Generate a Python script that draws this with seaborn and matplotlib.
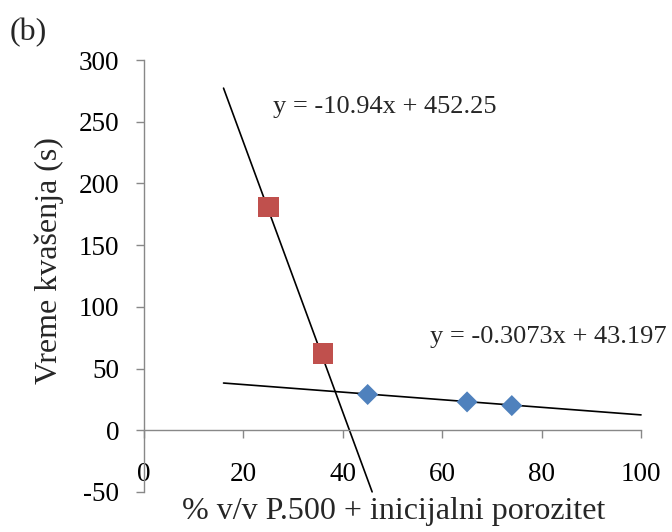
import matplotlib
matplotlib.use("Agg")
import matplotlib.pyplot as plt
import numpy as np
import pandas as pd
import seaborn as sns

# measured points
red_x = [25, 36]
red_y = [181, 62]
blue_x = [45, 65, 74]
blue_y = [29, 23, 20]

# trendlines (slope, intercept) and drawn x range
fit1 = (-10.94, 452.25)
fit1_x = [16, 45.9]
fit2 = (-0.3073, 43.197)
fit2_x = [16, 100]

x_ticks = [0, 20, 40, 60, 80, 100]
y_ticks = [-50, 0, 50, 100, 150, 200, 250, 300]

sns.set_theme(style="white")
plt.rcParams["font.family"] = ["Liberation Serif", "DejaVu Serif"]

fig = plt.figure(figsize=(6.72, 5.32), dpi=100)
ax = fig.add_axes([0.2143, 0.0752, 0.9539 - 0.2143, 0.8872 - 0.0752])


def trend(fit, xr):
    xs = np.array(xr, dtype=float)
    return pd.DataFrame({"x": xs, "y": fit[0] * xs + fit[1]})


t1 = trend(fit1, fit1_x)
t2 = trend(fit2, fit2_x)
sns.lineplot(data=t1, x="x", y="y", ax=ax, color="black", linewidth=1.2, clip_on=False)
sns.lineplot(data=t2, x="x", y="y", ax=ax, color="black", linewidth=1.2, clip_on=False)

sns.scatterplot(x=red_x, y=red_y, ax=ax, marker="s", s=220, color="#C0504D",
                edgecolor="none", zorder=3, clip_on=False)
sns.scatterplot(x=blue_x, y=blue_y, ax=ax, marker="D", s=115, color="#4F81BD",
                edgecolor="none", zorder=3, clip_on=False)

ax.set_xlim(0, 100)
ax.set_ylim(-50, 300)
ax.set_xticks(x_ticks)
ax.set_yticks(y_ticks)
ax.set_xticklabels([str(v) for v in x_ticks])
ax.set_yticklabels([str(v) for v in y_ticks])

for side in ["top", "right"]:
    ax.spines[side].set_visible(False)
ax.spines["bottom"].set_position(("data", 0))
for side in ["left", "bottom"]:
    ax.spines[side].set_color("#888888")
    ax.spines[side].set_linewidth(1.0)

ax.tick_params(axis="both", which="major", direction="out", length=6, width=1.0,
               color="#888888", labelsize=19.5, labelcolor="black", pad=12,
               bottom=True, left=True)
ax.tick_params(axis="x", pad=17)

ax.set_xlabel("% v/v P.500 + inicijalni porozitet", fontsize=23, labelpad=0)
ax.xaxis.label.set_va("center")
ax.xaxis.set_label_coords(0.503, -0.046)
ax.set_ylabel("Vreme kvašenja (s)", fontsize=23)
ax.yaxis.label.set_va("center")
ax.yaxis.set_label_coords(-0.19, 0.535)

ax.text(26, 262, "y = -10.94x + 452.25", fontsize=19, ha="left", va="center")
ax.text(57.5, 75.5, "y = -0.3073x + 43.197", fontsize=19, ha="left", va="center",
        clip_on=False)
fig.text(0.015, 0.938, "(b)", fontsize=23, ha="left", va="center")

fig.savefig("out.png", dpi=100)
